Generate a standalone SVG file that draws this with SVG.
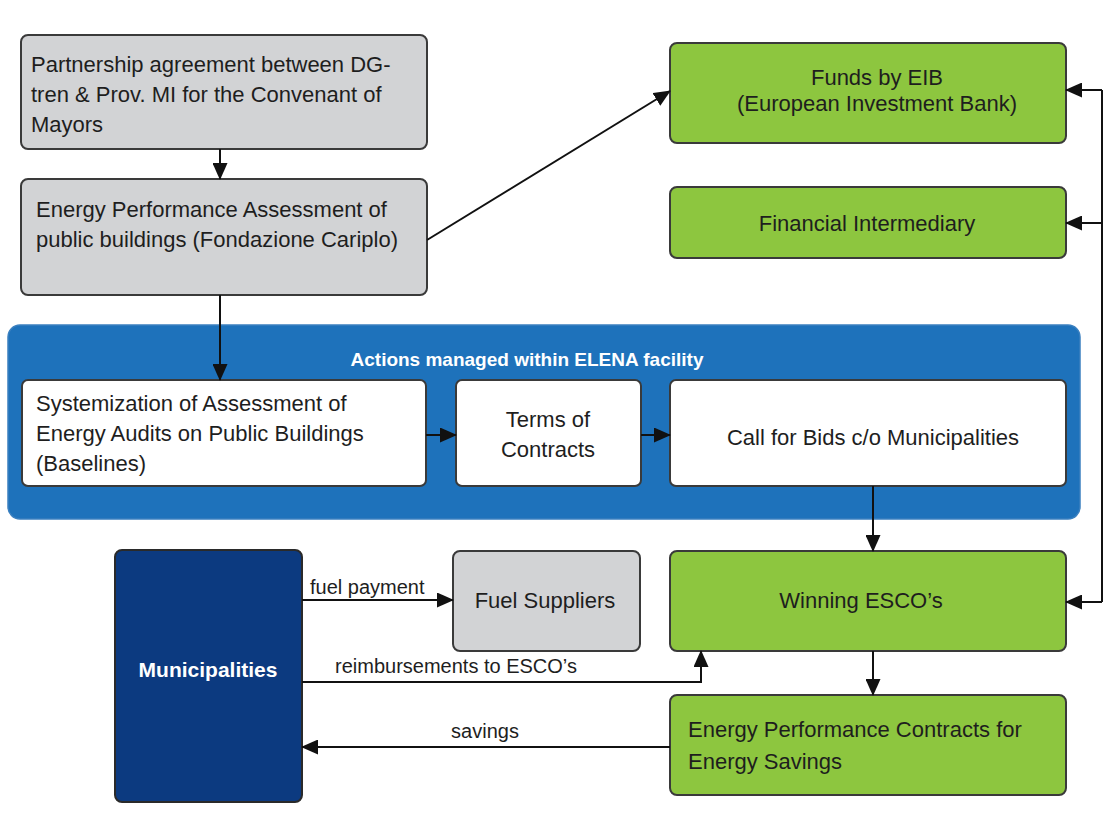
<svg xmlns="http://www.w3.org/2000/svg" width="1110" height="827" viewBox="0 0 1110 827">
<style>
.box{stroke:#3a3a3a;stroke-width:2}
.grey{fill:#d2d3d5}
.green{fill:#8dc63f}
.white{fill:#ffffff}
.t{font-family:"Liberation Sans",Arial,sans-serif;font-size:22px;fill:#1e1e1e}
.lbl{font-family:"Liberation Sans",Arial,sans-serif;font-size:20px;fill:#1e1e1e}
.mid{text-anchor:middle}
.conn{fill:none;stroke:#111;stroke-width:2}
</style>
<defs>
<marker id="ah" markerUnits="userSpaceOnUse" markerWidth="17" markerHeight="15" refX="16" refY="7.5" orient="auto">
<path d="M0,0 L17,7.5 L0,15 Z" fill="#111"/>
</marker>
</defs>
<rect width="1110" height="827" fill="#ffffff"/>

<g id="elena">
<rect x="8" y="325" width="1072" height="194" rx="12" fill="#1e72bb" stroke="#3b80c0" stroke-width="1.5"/>
<text x="527" y="366" class="mid" style="font-family:'Liberation Sans',Arial,sans-serif;font-size:19px;font-weight:bold;fill:#ffffff">Actions managed within ELENA facility</text>
</g>

<g id="partnership">
<rect x="21" y="35" width="406" height="114" rx="7" class="box grey"/>
<text class="t" x="31" y="72">Partnership agreement between DG-</text>
<text class="t" x="31" y="102">tren &amp; Prov. MI for the Convenant of</text>
<text class="t" x="31" y="132">Mayors</text>
</g>

<g id="assessment">
<rect x="21" y="179" width="406" height="116" rx="7" class="box grey"/>
<text class="t" x="36" y="217">Energy Performance Assessment of</text>
<text class="t" x="36" y="247">public buildings (Fondazione Cariplo)</text>
</g>

<g id="funds">
<rect x="670" y="43" width="396" height="100" rx="7" class="box green"/>
<text class="t mid" x="877" y="85">Funds by EIB</text>
<text class="t mid" x="877" y="111">(European Investment Bank)</text>
</g>

<g id="intermediary">
<rect x="670" y="187" width="396" height="71" rx="7" class="box green"/>
<text class="t mid" x="867" y="231">Financial Intermediary</text>
</g>

<g id="systemization">
<rect x="22" y="380" width="404" height="106" rx="6" class="box white"/>
<text class="t" x="36" y="411">Systemization of Assessment of</text>
<text class="t" x="36" y="441">Energy Audits on Public Buildings</text>
<text class="t" x="36" y="471">(Baselines)</text>
</g>

<g id="terms">
<rect x="456" y="380" width="185" height="106" rx="6" class="box white"/>
<text class="t mid" x="548" y="427">Terms of</text>
<text class="t mid" x="548" y="457">Contracts</text>
</g>

<g id="callbids">
<rect x="670" y="380" width="396" height="106" rx="6" class="box white"/>
<text class="t mid" x="873" y="445">Call for Bids c/o Municipalities</text>
</g>

<g id="municipalities">
<rect x="115" y="550" width="187" height="252" rx="7" fill="#0c3a80" stroke="#2a2a2a" stroke-width="2"/>
<text x="208" y="677" class="mid" style="font-family:'Liberation Sans',Arial,sans-serif;font-size:21px;font-weight:bold;fill:#ffffff">Municipalities</text>
</g>

<g id="fuelsuppliers">
<rect x="453" y="551" width="187" height="100" rx="7" class="box grey"/>
<text class="t mid" x="545" y="608">Fuel Suppliers</text>
</g>

<g id="winning">
<rect x="670" y="551" width="396" height="100" rx="7" class="box green"/>
<text class="t mid" x="861" y="608">Winning ESCO’s</text>
</g>

<g id="epc">
<rect x="670" y="695" width="396" height="100" rx="7" class="box green"/>
<text class="t" x="688" y="737">Energy Performance Contracts for</text>
<text class="t" x="688" y="769">Energy Savings</text>
</g>

<g id="connectors">
<line x1="220" y1="149" x2="220" y2="179" class="conn" marker-end="url(#ah)"/>
<line x1="427" y1="240" x2="670" y2="91" class="conn" marker-end="url(#ah)"/>
<line x1="220" y1="295" x2="220" y2="380" class="conn" marker-end="url(#ah)"/>
<line x1="426" y1="435" x2="456" y2="435" class="conn" marker-end="url(#ah)"/>
<line x1="641" y1="435" x2="670" y2="435" class="conn" marker-end="url(#ah)"/>
<line x1="873" y1="486" x2="873" y2="551" class="conn" marker-end="url(#ah)"/>
<line x1="873" y1="651" x2="873" y2="695" class="conn" marker-end="url(#ah)"/>
<polyline points="1102,90 1102,602" class="conn"/>
<line x1="1102" y1="90" x2="1066" y2="90" class="conn" marker-end="url(#ah)"/>
<line x1="1102" y1="223" x2="1066" y2="223" class="conn" marker-end="url(#ah)"/>
<line x1="1102" y1="602" x2="1066" y2="602" class="conn" marker-end="url(#ah)"/>
<line x1="302" y1="600" x2="453" y2="600" class="conn" marker-end="url(#ah)"/>
<polyline points="302,682 701,682 701,651" class="conn" marker-end="url(#ah)"/>
<line x1="670" y1="747" x2="302" y2="747" class="conn" marker-end="url(#ah)"/>
<text class="lbl" x="310" y="594">fuel payment</text>
<text class="lbl" x="335" y="673">reimbursements to ESCO’s</text>
<text class="lbl mid" x="485" y="738">savings</text>
</g>
</svg>
